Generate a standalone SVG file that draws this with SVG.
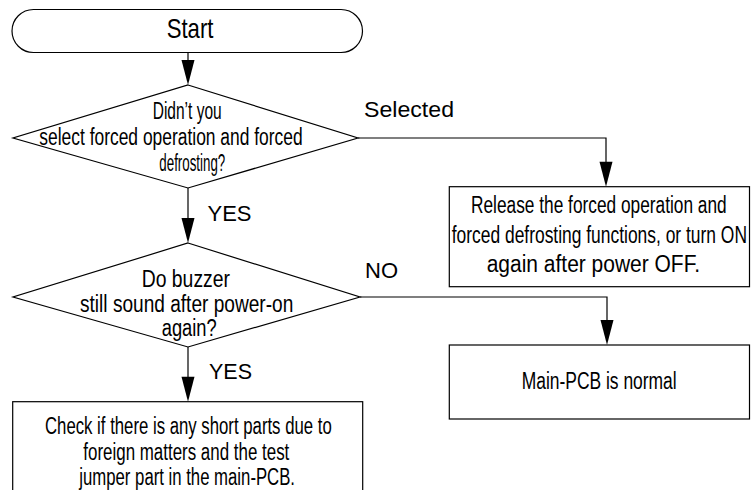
<svg xmlns="http://www.w3.org/2000/svg" width="751" height="490" viewBox="0 0 751 490">
<style>
.shape{fill:#fff;stroke:#000;stroke-width:1.2}
.conn{fill:none;stroke:#000;stroke-width:1.2}
.head{fill:#000;stroke:none}
.t{font-family:"Liberation Sans Narrow","Liberation Sans",Arial,sans-serif;font-size:23.5px;fill:#000}
.ts{font-family:"Liberation Sans Narrow","Liberation Sans",Arial,sans-serif;font-size:28px;fill:#000}
.lb{font-family:"Liberation Sans",Arial,sans-serif;font-size:22px;fill:#000}
</style>
<defs>
<path id="ah" d="M-6.5,-25 L6.5,-25 L0,0 Z"/>
</defs>
<rect width="751" height="490" fill="#fff"/>
<g id="connectors">
<line class="conn" x1="188" y1="52.7" x2="188" y2="62"/>
<use href="#ah" class="head" x="188" y="85"/>
<line class="conn" x1="188" y1="188" x2="188" y2="219"/>
<use href="#ah" class="head" x="188" y="243"/>
<polyline class="conn" points="358,138 606,138 606,163"/>
<use href="#ah" class="head" x="606" y="186.7"/>
<polyline class="conn" points="360,297 607,297 607,321"/>
<use href="#ah" class="head" x="607" y="345"/>
<line class="conn" x1="188" y1="347" x2="188" y2="378"/>
<use href="#ah" class="head" x="188" y="401.7"/>
<text class="lb" x="364" y="117" textLength="90" lengthAdjust="spacingAndGlyphs">Selected</text>
<text class="lb" x="365" y="278" textLength="33" lengthAdjust="spacingAndGlyphs">NO</text>
<text class="lb" x="207.5" y="221" textLength="44" lengthAdjust="spacingAndGlyphs">YES</text>
<text class="lb" x="209" y="379" textLength="43" lengthAdjust="spacingAndGlyphs">YES</text>
</g>
<g id="start">
<rect class="shape" x="12" y="9.5" width="350.5" height="43" rx="21.5" ry="21.5"/>
<text class="ts" x="166.7" y="37.5" textLength="46.7" lengthAdjust="spacingAndGlyphs">Start</text>
</g>
<g id="decision1">
<polygon class="shape" points="188,85 358,138 188,188 13,138"/>
<text class="t" x="152.7" y="119" textLength="69" lengthAdjust="spacingAndGlyphs">Didn’t you</text>
<text class="t" x="39.3" y="145" textLength="263.4" lengthAdjust="spacingAndGlyphs">select forced operation and forced</text>
<text class="t" x="159.3" y="171" textLength="66" lengthAdjust="spacingAndGlyphs">defrosting?</text>
</g>
<g id="release">
<rect class="shape" x="449.3" y="186.7" width="300.2" height="100"/>
<text class="t" x="471" y="213" textLength="255.7" lengthAdjust="spacingAndGlyphs">Release the forced operation and</text>
<text class="t" x="451.7" y="243" textLength="295.3" lengthAdjust="spacingAndGlyphs">forced defrosting functions, or turn ON</text>
<text class="t" x="486.7" y="272" textLength="213.3" lengthAdjust="spacingAndGlyphs">again after power OFF.</text>
</g>
<g id="decision2">
<polygon class="shape" points="188,243 360,297 188,347 13,297"/>
<text class="t" x="141.7" y="287" textLength="88.3" lengthAdjust="spacingAndGlyphs">Do buzzer</text>
<text class="t" x="80" y="311.5" textLength="213.3" lengthAdjust="spacingAndGlyphs">still sound after power-on</text>
<text class="t" x="161.7" y="336" textLength="55" lengthAdjust="spacingAndGlyphs">again?</text>
</g>
<g id="normal">
<rect class="shape" x="449.3" y="345" width="300.2" height="74"/>
<text class="t" x="521.7" y="389" textLength="155" lengthAdjust="spacingAndGlyphs">Main-PCB is normal</text>
</g>
<g id="check">
<rect class="shape" x="12.7" y="401.7" width="350" height="100"/>
<text class="t" x="45" y="434" textLength="286.7" lengthAdjust="spacingAndGlyphs">Check if there is any short parts due to</text>
<text class="t" x="83.3" y="460" textLength="206" lengthAdjust="spacingAndGlyphs">foreign matters and the test</text>
<text class="t" x="79.3" y="485" textLength="215.7" lengthAdjust="spacingAndGlyphs">jumper part in the main-PCB.</text>
</g>
</svg>
